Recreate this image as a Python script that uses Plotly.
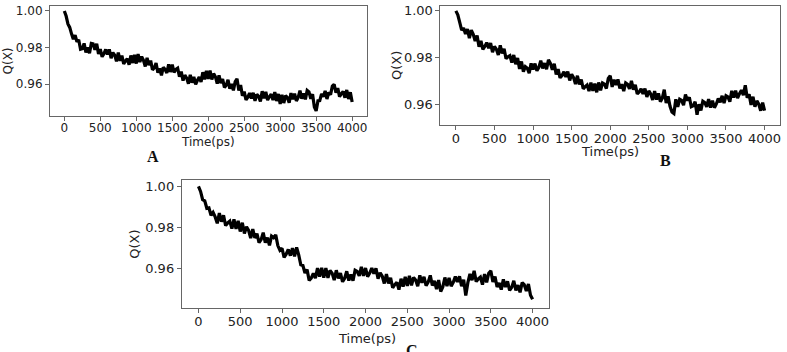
import numpy as np
import plotly.graph_objects as go

q_a = [1.0000, 0.9972, 0.9929, 0.9910, 0.9875, 0.9846, 0.9868, 0.9832, 0.9843, 0.9791,
       0.9794, 0.9823, 0.9773, 0.9801, 0.9769, 0.9823, 0.9821, 0.9788, 0.9821, 0.9766,
       0.9792, 0.9750, 0.9766, 0.9790, 0.9762, 0.9790, 0.9742, 0.9773, 0.9759, 0.9725,
       0.9773, 0.9728, 0.9757, 0.9711, 0.9727, 0.9740, 0.9707, 0.9757, 0.9716, 0.9760,
       0.9713, 0.9765, 0.9721, 0.9751, 0.9731, 0.9697, 0.9744, 0.9705, 0.9729, 0.9679,
       0.9689, 0.9716, 0.9663, 0.9686, 0.9649, 0.9693, 0.9681, 0.9662, 0.9709, 0.9667,
       0.9707, 0.9665, 0.9681, 0.9688, 0.9642, 0.9669, 0.9620, 0.9650, 0.9634, 0.9603,
       0.9652, 0.9609, 0.9640, 0.9599, 0.9622, 0.9640, 0.9613, 0.9666, 0.9627, 0.9674,
       0.9629, 0.9675, 0.9626, 0.9658, 0.9641, 0.9604, 0.9649, 0.9607, 0.9629, 0.9583,
       0.9595, 0.9625, 0.9576, 0.9602, 0.9567, 0.9614, 0.9630, 0.9566, 0.9596, 0.9537,
       0.9560, 0.9515, 0.9530, 0.9552, 0.9522, 0.9554, 0.9510, 0.9545, 0.9534, 0.9507,
       0.9562, 0.9524, 0.9559, 0.9514, 0.9532, 0.9546, 0.9514, 0.9557, 0.9509, 0.9547,
       0.9493, 0.9543, 0.9498, 0.9538, 0.9528, 0.9499, 0.9552, 0.9519, 0.9549, 0.9509,
       0.9529, 0.9565, 0.9522, 0.9550, 0.9518, 0.9567, 0.9559, 0.9521, 0.9546, 0.9476,
       0.9455, 0.9510, 0.9511, 0.9548, 0.9532, 0.9564, 0.9520, 0.9555, 0.9544, 0.9590,
       0.9600, 0.9554, 0.9580, 0.9533, 0.9549, 0.9561, 0.9527, 0.9569, 0.9520, 0.9557,
       0.9503]

q_b = [1.0000, 0.9983, 0.9951, 0.9917, 0.9927, 0.9901, 0.9922, 0.9883, 0.9917, 0.9900,
       0.9871, 0.9894, 0.9846, 0.9871, 0.9835, 0.9847, 0.9864, 0.9840, 0.9862, 0.9823,
       0.9847, 0.9836, 0.9811, 0.9852, 0.9818, 0.9837, 0.9795, 0.9803, 0.9808, 0.9778,
       0.9811, 0.9771, 0.9798, 0.9751, 0.9783, 0.9739, 0.9761, 0.9754, 0.9733, 0.9775,
       0.9749, 0.9774, 0.9743, 0.9758, 0.9787, 0.9753, 0.9776, 0.9750, 0.9790, 0.9775,
       0.9748, 0.9773, 0.9727, 0.9750, 0.9713, 0.9723, 0.9739, 0.9717, 0.9740, 0.9702,
       0.9728, 0.9714, 0.9686, 0.9722, 0.9685, 0.9706, 0.9666, 0.9675, 0.9682, 0.9656,
       0.9693, 0.9657, 0.9688, 0.9651, 0.9693, 0.9659, 0.9691, 0.9686, 0.9667, 0.9711,
       0.9722, 0.9674, 0.9705, 0.9682, 0.9706, 0.9668, 0.9686, 0.9656, 0.9691, 0.9685,
       0.9666, 0.9700, 0.9662, 0.9683, 0.9644, 0.9652, 0.9666, 0.9644, 0.9667, 0.9631,
       0.9657, 0.9644, 0.9618, 0.9656, 0.9620, 0.9646, 0.9611, 0.9626, 0.9662, 0.9605,
       0.9634, 0.9591, 0.9566, 0.9560, 0.9621, 0.9588, 0.9621, 0.9616, 0.9596, 0.9641,
       0.9616, 0.9630, 0.9589, 0.9593, 0.9611, 0.9555, 0.9600, 0.9573, 0.9613, 0.9607,
       0.9589, 0.9622, 0.9585, 0.9615, 0.9585, 0.9601, 0.9624, 0.9608, 0.9636, 0.9605,
       0.9636, 0.9631, 0.9611, 0.9657, 0.9628, 0.9658, 0.9626, 0.9645, 0.9660, 0.9639,
       0.9681, 0.9628, 0.9642, 0.9597, 0.9632, 0.9589, 0.9614, 0.9600, 0.9572, 0.9607,
       0.9572]

q_c = [1.0000, 0.9976, 0.9936, 0.9930, 0.9894, 0.9896, 0.9860, 0.9874, 0.9852, 0.9821,
       0.9871, 0.9829, 0.9860, 0.9810, 0.9823, 0.9832, 0.9795, 0.9840, 0.9794, 0.9833,
       0.9781, 0.9824, 0.9772, 0.9804, 0.9787, 0.9749, 0.9793, 0.9750, 0.9771, 0.9727,
       0.9742, 0.9776, 0.9727, 0.9751, 0.9714, 0.9759, 0.9751, 0.9765, 0.9713, 0.9690,
       0.9700, 0.9656, 0.9671, 0.9694, 0.9664, 0.9700, 0.9660, 0.9704, 0.9668, 0.9620,
       0.9616, 0.9580, 0.9596, 0.9544, 0.9555, 0.9578, 0.9555, 0.9604, 0.9562, 0.9605,
       0.9557, 0.9604, 0.9556, 0.9592, 0.9579, 0.9545, 0.9593, 0.9554, 0.9579, 0.9537,
       0.9554, 0.9588, 0.9543, 0.9573, 0.9542, 0.9593, 0.9587, 0.9566, 0.9610, 0.9566,
       0.9604, 0.9562, 0.9579, 0.9604, 0.9576, 0.9602, 0.9552, 0.9581, 0.9564, 0.9529,
       0.9575, 0.9529, 0.9556, 0.9508, 0.9523, 0.9534, 0.9499, 0.9552, 0.9514, 0.9561,
       0.9517, 0.9566, 0.9520, 0.9558, 0.9546, 0.9516, 0.9568, 0.9532, 0.9561, 0.9518,
       0.9535, 0.9568, 0.9519, 0.9541, 0.9502, 0.9545, 0.9490, 0.9512, 0.9558, 0.9516,
       0.9556, 0.9516, 0.9535, 0.9562, 0.9536, 0.9564, 0.9516, 0.9547, 0.9470, 0.9533,
       0.9575, 0.9545, 0.9590, 0.9538, 0.9551, 0.9560, 0.9523, 0.9574, 0.9534, 0.9579,
       0.9590, 0.9536, 0.9562, 0.9512, 0.9531, 0.9499, 0.9549, 0.9512, 0.9539, 0.9495,
       0.9510, 0.9542, 0.9495, 0.9521, 0.9486, 0.9533, 0.9523, 0.9492, 0.9526, 0.9472,
       0.9452]

x_ticks = [0, 500, 1000, 1500, 2000, 2500, 3000, 3500, 4000]
y_ticks = [0.96, 0.98, 1.00]
y_tick_text = ["0.96", "0.98", "1.00"]
panel_labels = ["A", "B", "C"]

W, H = 787, 352

def px(x):
    return x / W

def py(y):
    return 1 - y / H

panels = [
    dict(q=q_a, xd=(50, 367), yd=(3, 114), yr=(0.9427, 1.0027), fs=12,
         qx=(8, 58), tx=(208, 140), lp=(153, 155)),
    dict(q=q_b, xd=(441, 781), yd=(3, 123), yr=(0.9511, 1.0021), fs=13,
         qx=(397, 63), tx=(611, 150), lp=(666, 159)),
    dict(q=q_c, xd=(182, 550), yd=(179, 308), yr=(0.9408, 1.0029), fs=13,
         qx=(135, 243), tx=(367, 338), lp=(413, 350)),
]

fig = go.Figure()
annotations = []
for i, p in enumerate(panels):
    n = i + 1
    xa = "x" if n == 1 else f"x{n}"
    ya = "y" if n == 1 else f"y{n}"
    t = np.linspace(0, 4000, len(p["q"]))
    fig.add_trace(go.Scatter(x=t, y=p["q"], mode="lines",
                             line=dict(color="black", width=3.2, simplify=False),
                             xaxis=xa, yaxis=ya, showlegend=False))
    axis_common = dict(showline=True, linecolor="#666", linewidth=1, mirror=True,
                       ticks="outside", ticklen=4, tickcolor="#666",
                       showgrid=False, zeroline=False,
                       tickfont=dict(family="DejaVu Sans", size=p["fs"], color="#222"))
    fig.layout[f"xaxis{'' if n == 1 else n}"] = dict(
        axis_common, domain=[px(p["xd"][0]), px(p["xd"][1])], range=[-200, 4200],
        tickvals=x_ticks, anchor=ya, ticklabelstandoff=-3)
    fig.layout[f"yaxis{'' if n == 1 else n}"] = dict(
        axis_common, domain=[py(p["yd"][1]), py(p["yd"][0])], range=list(p["yr"]),
        tickvals=y_ticks, ticktext=y_tick_text, anchor=xa)
    annotations.append(dict(text="Q(X)", x=px(p["qx"][0]), y=py(p["qx"][1]),
                            xref="paper", yref="paper", showarrow=False, textangle=-90,
                            xanchor="center", yanchor="middle",
                            font=dict(family="DejaVu Sans", size=p["fs"], color="#222")))
    annotations.append(dict(text="Time(ps)", x=px(p["tx"][0]), y=py(p["tx"][1]),
                            xref="paper", yref="paper", showarrow=False,
                            xanchor="center", yanchor="middle",
                            font=dict(family="DejaVu Sans", size=p["fs"], color="#222")))
    annotations.append(dict(text=f"<b>{panel_labels[i]}</b>", x=px(p["lp"][0]), y=py(p["lp"][1]),
                            xref="paper", yref="paper", showarrow=False,
                            xanchor="center", yanchor="middle",
                            font=dict(family="Liberation Serif", size=16, color="#111")))

fig.update_layout(width=W, height=H, margin=dict(l=0, r=0, t=0, b=0),
                  paper_bgcolor="white", plot_bgcolor="white",
                  annotations=annotations)

fig.write_html("out.html", config={"displayModeBar": False},
               post_script="document.body.style.margin='0';")
